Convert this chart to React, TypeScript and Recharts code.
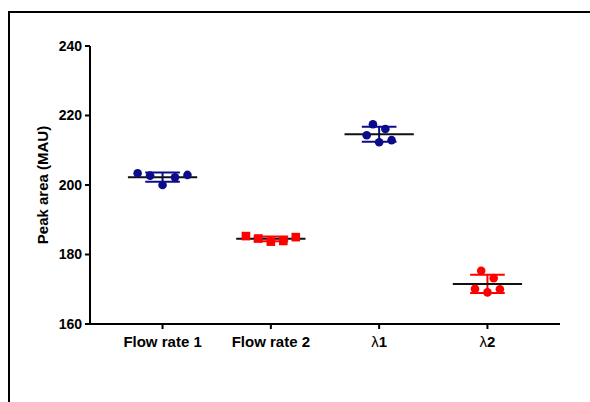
import { ComposedChart, Scatter, XAxis, YAxis, ReferenceLine } from 'recharts'

// groups on the x axis
const categories = ['Flow rate 1', 'Flow rate 2', 'λ1', 'λ2']

// replicate peak areas (MAU), five injections per group
const flowRate1 = [203.4, 202.7, 200.0, 202.2, 202.9]
const flowRate2 = [185.3, 184.6, 183.7, 183.9, 185.0]
const lambda1 = [214.3, 217.5, 212.3, 216.1, 212.9]
const lambda2 = [170.1, 175.3, 169.1, 173.2, 170.0]

const yTicks = [160, 180, 200, 220, 240]

const groups = [flowRate1, flowRate2, lambda1, lambda2]
const colors = ['#0c0c8a', '#ff0000', '#0c0c8a', '#ff0000']
const markers = ['circle', 'square', 'circle', 'circle']
// horizontal scatter width of the points, in category units
const spread = [0.46, 0.46, 0.23, 0.23]

const font = '"Liberation Sans", Arial, sans-serif'

const mean = (v: number[]) => v.reduce((a, b) => a + b, 0) / v.length
const sd = (v: number[]) => {
    const m = mean(v)
    return Math.sqrt(v.reduce((a, b) => a + (b - m) * (b - m), 0) / (v.length - 1))
}

const points = groups.map((vals, g) =>
    vals.map((y, j) => ({ x: g + 1 + spread[g] * ((j - (vals.length - 1) / 2) / (vals.length - 1)), y }))
)

const stats = groups.map((vals, g) => ({ x: g + 1, m: mean(vals), s: sd(vals), color: colors[g] }))

const Dot = (color: string, marker: string) => (p: any) =>
    marker === 'square'
        ? <rect x={p.cx - 4.3} y={p.cy - 4.3} width={8.6} height={8.6} fill={color} />
        : <circle cx={p.cx} cy={p.cy} r={4.3} fill={color} />

// greek letter drawn in a plain weight, like the Symbol font in the original
const XTick = (p: any) => {
    const label: string = categories[p.payload.value - 1] ?? ''
    const greek = label.startsWith('λ')
    return (
        <text x={p.x} y={p.y} dy="0.71em" textAnchor="middle" fill="#000" fontSize={15} fontFamily={font} fontWeight="bold">
            {greek ? <><tspan fontWeight="normal">λ</tspan>{label.slice(1)}</> : label}
        </text>
    )
}

export default function App() {
    return (
        <div style={{ position: 'fixed', left: 0, top: 0, width: 590, height: 402, overflow: 'hidden', background: '#fff' }}>
            <div style={{ position: 'absolute', left: 8, top: 11, width: 582, height: 391, boxSizing: 'border-box', borderTop: '2px solid #000', borderLeft: '2px solid #000' }}>
                <ComposedChart width={570} height={389} margin={{ top: 33, right: 20, bottom: 48, left: 0 }}>
                    <XAxis type="number" dataKey="x" domain={[0.33, 4.67]} ticks={[1, 2, 3, 4]} allowDataOverflow
                        height={30} stroke="#000" strokeWidth={2} tickSize={5} tickMargin={7} tick={<XTick />} />
                    <YAxis type="number" dataKey="y" domain={[160, 240]} ticks={yTicks} width={80}
                        stroke="#000" strokeWidth={2} tickSize={5} tickMargin={3}
                        tick={{ fill: '#000', fontSize: 14, fontWeight: 'bold', fontFamily: font }}
                        label={{ value: 'Peak area (MAU)', angle: -90, position: 'insideLeft', offset: 33,
                            style: { textAnchor: 'middle', fill: '#000', fontSize: 15, fontWeight: 'bold', fontFamily: font } }} />
                    {stats.map((s, i) => [
                        <ReferenceLine key={'v' + i} segment={[{ x: s.x, y: s.m - s.s }, { x: s.x, y: s.m + s.s }]} stroke={s.color} strokeWidth={2} />,
                        <ReferenceLine key={'t' + i} segment={[{ x: s.x - 0.16, y: s.m + s.s }, { x: s.x + 0.16, y: s.m + s.s }]} stroke={s.color} strokeWidth={2} />,
                        <ReferenceLine key={'b' + i} segment={[{ x: s.x - 0.16, y: s.m - s.s }, { x: s.x + 0.16, y: s.m - s.s }]} stroke={s.color} strokeWidth={2} />,
                        <ReferenceLine key={'m' + i} segment={[{ x: s.x - 0.32, y: s.m }, { x: s.x + 0.32, y: s.m }]} stroke="#111" strokeWidth={2} />,
                    ])}
                    {points.map((d, g) => (
                        <Scatter key={g} data={d} dataKey="y" isAnimationActive={false} shape={Dot(colors[g], markers[g])} />
                    ))}
                </ComposedChart>
            </div>
        </div>
    )
}
